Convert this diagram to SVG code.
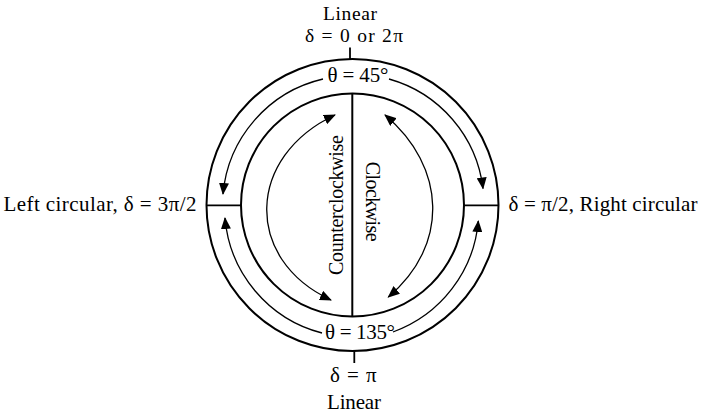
<svg xmlns="http://www.w3.org/2000/svg" width="701" height="414" viewBox="0 0 701 414">
<style>
  .ring { fill: none; stroke: #000; stroke-width: 2; }
  .tick { fill: none; stroke: #000; stroke-width: 1.8; }
  .arr { fill: none; stroke: #000; stroke-width: 1.3; marker-start: url(#ah); marker-end: url(#ah); }
  .arr1 { fill: none; stroke: #000; stroke-width: 1.3; marker-end: url(#ah); }
  text { font-family: "Liberation Serif", "Times New Roman", serif; font-size: 21px; fill: #000; }
  .rot { font-size: 20px; }
  .top { font-size: 19.5px; }
  .mid { text-anchor: middle; }
</style>
<defs>
  <marker id="ah" viewBox="0 0 12 10" markerWidth="12" markerHeight="10" markerUnits="userSpaceOnUse" refX="11" refY="5" orient="auto-start-reverse">
    <path d="M0,0 L12,5 L0,10 z" fill="#000"/>
  </marker>
</defs>
<rect width="701" height="414" fill="#fff"/>

<g id="outer-circle">
  <circle class="ring" cx="352.5" cy="205" r="146"/>
</g>
<g id="inner-circle">
  <circle class="ring" cx="352.5" cy="205" r="111.5"/>
  <line class="ring" x1="352.3" y1="93.5" x2="352.3" y2="316.5"/>
</g>
<g id="ticks">
  <line class="tick" x1="350" y1="47.5" x2="350" y2="59"/>
  <line class="tick" x1="354.3" y1="351" x2="354.3" y2="363"/>
  <line class="tick" x1="206.5" y1="205.3" x2="241" y2="205.3"/>
  <line class="tick" x1="464" y1="205.3" x2="498.5" y2="205.3"/>
</g>

<g id="connectors">
  <path class="arr1" d="M323,79 A130,130 0 0 0 223,194"/>
  <path class="arr1" d="M389,79 A130,130 0 0 1 483,188.5"/>
  <path class="arr1" d="M322,333 A130,130 0 0 1 225,218"/>
  <path class="arr1" d="M393,332 A130,130 0 0 0 478.3,221"/>
  <path class="arr" d="M335,115 C246.7,156.2 242.7,258.8 331,300"/>
  <path class="arr" d="M385,115 C446.4,166.6 449.7,245.4 388.3,297"/>
</g>

<g id="top-label">
  <text class="mid top" x="350" y="19.5" textLength="54">Linear</text>
  <text class="mid top" x="354" y="41.5" textLength="98">δ = 0 or 2π</text>
</g>
<g id="theta-45">
  <text class="mid" x="358" y="81.5" textLength="61">θ = 45°</text>
</g>
<g id="theta-135">
  <text class="mid" x="360" y="338.5" textLength="70">θ = 135°</text>
</g>
<g id="bottom-label">
  <text class="mid" x="353.3" y="382" textLength="46.5">δ = π</text>
  <text class="mid" x="354" y="409" textLength="54">Linear</text>
</g>
<g id="left-label">
  <text x="3.5" y="211" textLength="193">Left circular, δ = 3π/2</text>
</g>
<g id="right-label">
  <text x="508.5" y="211" textLength="189">δ = π/2, Right circular</text>
</g>
<g id="ccw-label">
  <text class="mid rot" transform="translate(342.5,205) rotate(-90)" textLength="140">Counterclockwise</text>
</g>
<g id="cw-label">
  <text class="mid rot" transform="translate(365.5,201.7) rotate(90)" textLength="80">Clockwise</text>
</g>
</svg>
